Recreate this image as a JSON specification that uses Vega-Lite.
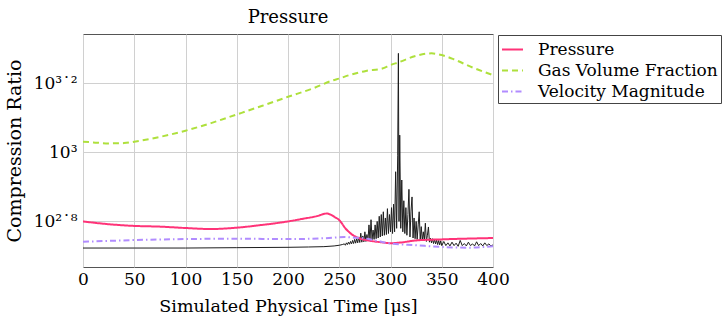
{
  "$schema": "https://vega.github.io/schema/vega-lite/v6.json",
  "autosize": {"type": "none"},
  "padding": {"left": 83, "top": 34, "right": 233, "bottom": 59},
  "width": 410,
  "height": 233,
  "background": "white",
  "title": {"text": "Pressure", "anchor": "middle", "baseline": "bottom", "offset": 9, "dy": 20, "frame": "group", "font": "DejaVu Serif", "fontSize": 18, "fontWeight": "normal", "color": "#000"},
  "config": {
    "font": "DejaVu Serif",
    "title": {"font": "DejaVu Serif", "fontSize": 18, "fontWeight": "normal", "color": "#000"},
    "style": {"group-title": {"font": "DejaVu Serif", "fontSize": 18, "fontWeight": "normal"}},
    "view": {"stroke": "#555", "strokeWidth": 1},
    "axis": {"labelFont": "DejaVu Serif", "titleFont": "DejaVu Serif", "labelFontSize": 17, "titleFontSize": 17.5, "titleFontWeight": "normal", "labelColor": "#000", "titleColor": "#000", "gridColor": "#d0d0d0", "gridWidth": 1, "domain": false, "ticks": false}
  },
  "datasets": {
    "raw": [
      {"t": 0, "value": 528.4}, {"t": 50, "value": 528.4}, {"t": 100, "value": 528.4}, {"t": 150, "value": 529.7}, {"t": 200, "value": 530.9}, {"t": 220, "value": 532.1}, {"t": 235, "value": 533.3}, {"t": 245, "value": 535.8}, {"t": 250, "value": 538.3}, {"t": 253, "value": 540.8},
      {"t": 255, "value": 543.3}, {"t": 256, "value": 538.3}, {"t": 257, "value": 547.0}, {"t": 258, "value": 540.8}, {"t": 259, "value": 549.5}, {"t": 260, "value": 542.0}, {"t": 261, "value": 552.1}, {"t": 262, "value": 543.3}, {"t": 263, "value": 555.9}, {"t": 264, "value": 544.5},
      {"t": 265, "value": 559.8}, {"t": 266, "value": 545.8}, {"t": 267, "value": 562.3}, {"t": 268, "value": 547.0}, {"t": 269, "value": 568.9}, {"t": 270, "value": 548.3}, {"t": 271, "value": 583.4}, {"t": 272, "value": 549.5}, {"t": 273, "value": 572.8}, {"t": 274, "value": 550.8},
      {"t": 275, "value": 588.8}, {"t": 276, "value": 552.1}, {"t": 277, "value": 578.1}, {"t": 278, "value": 554.6}, {"t": 279, "value": 616.6}, {"t": 280, "value": 555.9}, {"t": 281, "value": 638.3}, {"t": 282, "value": 558.5}, {"t": 283, "value": 595.7}, {"t": 284, "value": 559.8},
      {"t": 285, "value": 616.6}, {"t": 286, "value": 562.3}, {"t": 287, "value": 631.0}, {"t": 288, "value": 564.9}, {"t": 289, "value": 653.1}, {"t": 290, "value": 568.9}, {"t": 291, "value": 660.7}, {"t": 292, "value": 572.8}, {"t": 293, "value": 673.0}, {"t": 294, "value": 575.4},
      {"t": 295, "value": 645.7}, {"t": 296, "value": 578.1}, {"t": 297, "value": 687.1}, {"t": 298, "value": 582.1}, {"t": 299, "value": 660.7}, {"t": 300, "value": 588.8}, {"t": 301, "value": 691.8}, {"t": 302, "value": 582.1}, {"t": 303, "value": 707.9}, {"t": 304, "value": 588.8},
      {"t": 305, "value": 879.0}, {"t": 306, "value": 602.6}, {"t": 307, "value": 977.2}, {"t": 307.7, "value": 1936}, {"t": 308.3, "value": 631.0}, {"t": 309, "value": 1122}, {"t": 310, "value": 602.6}, {"t": 311, "value": 831.8}, {"t": 312, "value": 588.8}, {"t": 313, "value": 724.4},
      {"t": 314, "value": 582.1}, {"t": 315, "value": 691.8}, {"t": 316, "value": 575.4}, {"t": 317, "value": 660.7}, {"t": 318, "value": 781.6}, {"t": 319, "value": 568.9}, {"t": 320, "value": 676.1}, {"t": 321, "value": 743.0}, {"t": 322, "value": 564.9}, {"t": 323, "value": 645.7},
      {"t": 324, "value": 562.3}, {"t": 325, "value": 631.0}, {"t": 326, "value": 559.8}, {"t": 327, "value": 616.6}, {"t": 328, "value": 673.0}, {"t": 329, "value": 557.2}, {"t": 330, "value": 609.5}, {"t": 331, "value": 555.9}, {"t": 332, "value": 588.8}, {"t": 333, "value": 554.6},
      {"t": 334, "value": 623.7}, {"t": 335, "value": 552.1}, {"t": 336, "value": 575.4}, {"t": 337, "value": 608.1}, {"t": 338, "value": 549.5}, {"t": 339, "value": 564.9}, {"t": 340, "value": 547.0}, {"t": 341, "value": 562.3}, {"t": 342, "value": 544.5}, {"t": 343, "value": 559.8},
      {"t": 344, "value": 543.3}, {"t": 345, "value": 557.2}, {"t": 346, "value": 540.8}, {"t": 347, "value": 555.9}, {"t": 348, "value": 539.5}, {"t": 349, "value": 554.6}, {"t": 350, "value": 537.0}, {"t": 352, "value": 552.1}, {"t": 354, "value": 537.0}, {"t": 356, "value": 547.0},
      {"t": 358, "value": 535.8}, {"t": 360, "value": 549.5}, {"t": 362, "value": 537.0}, {"t": 364, "value": 545.8}, {"t": 366, "value": 534.6}, {"t": 368, "value": 555.9}, {"t": 370, "value": 537.0}, {"t": 372, "value": 544.5}, {"t": 374, "value": 535.8}, {"t": 376, "value": 549.5},
      {"t": 378, "value": 537.0}, {"t": 380, "value": 543.3}, {"t": 382, "value": 535.8}, {"t": 384, "value": 550.8}, {"t": 386, "value": 537.0}, {"t": 388, "value": 544.5}, {"t": 390, "value": 535.8}, {"t": 392, "value": 547.0}, {"t": 394, "value": 537.0}, {"t": 396, "value": 543.3},
      {"t": 398, "value": 535.8}, {"t": 400, "value": 539.5}
    ],
    "series": [
      {"series": "Pressure", "t": 0, "value": 631.0}, {"series": "Pressure", "t": 25, "value": 619.4}, {"series": "Pressure", "t": 50, "value": 612.4}, {"series": "Pressure", "t": 75, "value": 609.5}, {"series": "Pressure", "t": 100, "value": 603.9}, {"series": "Pressure", "t": 125, "value": 599.8}, {"series": "Pressure", "t": 150, "value": 605.3}, {"series": "Pressure", "t": 175, "value": 616.6}, {"series": "Pressure", "t": 200, "value": 631.0}, {"series": "Pressure", "t": 215, "value": 642.7}, {"series": "Pressure", "t": 230, "value": 656.1}, {"series": "Pressure", "t": 234, "value": 662.2}, {"series": "Pressure", "t": 238, "value": 665.3}, {"series": "Pressure", "t": 242, "value": 659.2}, {"series": "Pressure", "t": 246, "value": 648.6}, {"series": "Pressure", "t": 250, "value": 636.8}, {"series": "Pressure", "t": 256, "value": 602.6}, {"series": "Pressure", "t": 263, "value": 576.7}, {"series": "Pressure", "t": 272, "value": 561.0}, {"series": "Pressure", "t": 280, "value": 554.6}, {"series": "Pressure", "t": 290, "value": 549.5}, {"series": "Pressure", "t": 300, "value": 545.8}, {"series": "Pressure", "t": 310, "value": 548.3}, {"series": "Pressure", "t": 325, "value": 555.9}, {"series": "Pressure", "t": 350, "value": 559.8}, {"series": "Pressure", "t": 400, "value": 564.9},
      {"series": "Gas Volume Fraction", "t": 0, "value": 1074}, {"series": "Gas Volume Fraction", "t": 10, "value": 1069}, {"series": "Gas Volume Fraction", "t": 25, "value": 1062}, {"series": "Gas Volume Fraction", "t": 40, "value": 1064}, {"series": "Gas Volume Fraction", "t": 50, "value": 1074}, {"series": "Gas Volume Fraction", "t": 75, "value": 1109}, {"series": "Gas Volume Fraction", "t": 100, "value": 1156}, {"series": "Gas Volume Fraction", "t": 125, "value": 1216}, {"series": "Gas Volume Fraction", "t": 150, "value": 1288}, {"series": "Gas Volume Fraction", "t": 175, "value": 1365}, {"series": "Gas Volume Fraction", "t": 200, "value": 1449}, {"series": "Gas Volume Fraction", "t": 225, "value": 1535}, {"series": "Gas Volume Fraction", "t": 243, "value": 1614}, {"series": "Gas Volume Fraction", "t": 250, "value": 1637}, {"series": "Gas Volume Fraction", "t": 260, "value": 1675}, {"series": "Gas Volume Fraction", "t": 276, "value": 1722}, {"series": "Gas Volume Fraction", "t": 292, "value": 1750}, {"series": "Gas Volume Fraction", "t": 300, "value": 1791}, {"series": "Gas Volume Fraction", "t": 308, "value": 1824}, {"series": "Gas Volume Fraction", "t": 325, "value": 1905}, {"series": "Gas Volume Fraction", "t": 340, "value": 1936}, {"series": "Gas Volume Fraction", "t": 350, "value": 1914}, {"series": "Gas Volume Fraction", "t": 363, "value": 1854}, {"series": "Gas Volume Fraction", "t": 380, "value": 1762}, {"series": "Gas Volume Fraction", "t": 400, "value": 1675},
      {"series": "Velocity Magnitude", "t": 0, "value": 550.8}, {"series": "Velocity Magnitude", "t": 50, "value": 557.2}, {"series": "Velocity Magnitude", "t": 100, "value": 561.0}, {"series": "Velocity Magnitude", "t": 150, "value": 562.3}, {"series": "Velocity Magnitude", "t": 200, "value": 561.0}, {"series": "Velocity Magnitude", "t": 240, "value": 564.9}, {"series": "Velocity Magnitude", "t": 255, "value": 568.9}, {"series": "Velocity Magnitude", "t": 265, "value": 566.2}, {"series": "Velocity Magnitude", "t": 275, "value": 563.6}, {"series": "Velocity Magnitude", "t": 285, "value": 555.9}, {"series": "Velocity Magnitude", "t": 300, "value": 544.5}, {"series": "Velocity Magnitude", "t": 325, "value": 538.3}, {"series": "Velocity Magnitude", "t": 350, "value": 532.1}, {"series": "Velocity Magnitude", "t": 375, "value": 529.7}, {"series": "Velocity Magnitude", "t": 400, "value": 534.6}
    ]
  },
  "encoding": {
    "x": {"field": "t", "type": "quantitative", "scale": {"domain": [0, 400], "nice": false, "zero": false},
      "axis": {"values": [0, 50, 100, 150, 200, 250, 300, 350, 400], "title": "Simulated Physical Time [μs]", "grid": true, "labelPadding": 4, "titlePadding": 10, "labelFlush": false}},
    "y": {"field": "value", "type": "quantitative", "scale": {"type": "log", "domain": [465.6, 2203], "nice": false, "zero": false},
      "axis": {"values": [630.957, 1000, 1584.893], "title": "Compression Ratio", "titleFontSize": 19, "grid": true, "labelPadding": 6, "titlePadding": 9,
        "labelExpr": "datum.value < 800 ? '10²˙⁸' : (datum.value < 1200 ? '10³' : '10³˙²')"}}
  },
  "layer": [
    {
      "data": {"name": "raw"},
      "mark": {"type": "line", "color": "#1e1e1e", "strokeWidth": 1, "clip": true}
    },
    {
      "data": {"name": "series"},
      "mark": {"type": "line", "strokeWidth": 2, "interpolate": "monotone", "clip": true},
      "encoding": {
        "color": {"field": "series", "type": "nominal",
          "scale": {"domain": ["Pressure", "Gas Volume Fraction", "Velocity Magnitude"], "range": ["#ff3378", "#aee03c", "#b18cff"]},
          "legend": {"title": null, "orient": "none", "legendX": 415, "legendY": 1, "strokeColor": "#444", "fillColor": "white", "padding": 3, "rowPadding": 1,
            "labelFont": "DejaVu Serif", "labelFontSize": 17, "labelColor": "#000", "labelLimit": 0, "symbolType": "stroke", "symbolSize": 441, "symbolStrokeWidth": 2, "labelOffset": 14, "cornerRadius": 0}},
        "strokeDash": {"field": "series", "type": "nominal",
          "scale": {"domain": ["Pressure", "Gas Volume Fraction", "Velocity Magnitude"], "range": [[1, 0], [6, 4], [6, 3, 1.5, 3]]},
          "legend": {"title": null, "orient": "none", "legendX": 415, "legendY": 1}}
      }
    }
  ]
}
